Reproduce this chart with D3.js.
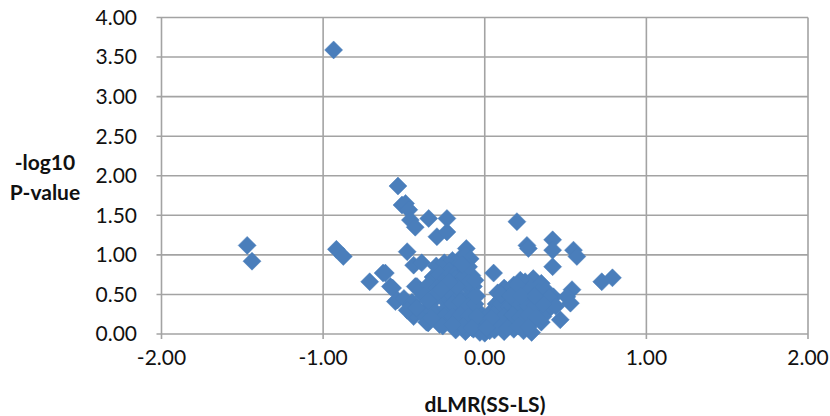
<!DOCTYPE html>
<html><head><meta charset="utf-8">
<script src="https://cdn.jsdelivr.net/npm/d3@7"></script>
<style>body{margin:0;background:#fff}svg{display:block}</style>
</head><body><svg id="c" width="830" height="416"></svg>
<script>
const xTicks = [-2, -1, 0, 1, 2];
const yTicks = [0, 0.5, 1, 1.5, 2, 2.5, 3, 3.5, 4];
const xTitle = "dLMR(SS-LS)";
const yTitle = ["-log10", "P-value"];
// dLMR (x) values
const dLMR = [
 -1.47,-1.44,-0.935,-0.918,-0.875,-0.712,-0.629,-0.537,-0.512,-0.49,-0.47,-0.46,-0.43,-0.347,-0.234,-0.296,-0.234,-0.114,-0.48,-0.44,-0.39,
 -0.615,-0.584,-0.553,-0.44,-0.43,-0.57,-0.54,-0.42,-0.44,-0.35,
 0.199,0.261,0.27,0.42,0.42,0.549,0.57,0.42,0.055,0.724,0.79,0.54,0.508,0.53,0.467,0.425,
 -0.30,-0.25,-0.20,-0.15,-0.12,-0.18,-0.09,-0.22,
 -0.32,-0.28,-0.22,-0.17,-0.12,-0.08,-0.26,
 -0.40,-0.35,-0.30,-0.25,-0.20,-0.15,-0.10,-0.07,
 -0.50,-0.45,-0.38,-0.32,-0.27,-0.22,-0.17,-0.12,-0.07,
 -0.48,-0.40,-0.35,-0.30,-0.24,-0.19,-0.14,-0.09,-0.05,
 -0.36,-0.28,-0.22,-0.16,-0.11,-0.06,-0.02,
 -0.18,-0.12,-0.07,-0.03,0.00,0.03,
 0.30,0.25,0.18,0.35,0.12,0.22,
 0.08,0.13,0.18,0.23,0.28,0.33,0.38,
 0.07,0.10,0.14,0.19,0.24,0.29,0.34,0.40,
 0.03,0.08,0.13,0.18,0.23,0.28,0.33,0.38,
 0.05,0.10,0.15,0.20,0.25,0.30,0.35,
 0.06,0.12,0.18,0.24,0.29,0.02,0.44,0.36,
 -0.23,-0.18,-0.13,-0.10,-0.14,-0.20,-0.15,-0.10,-0.06,-0.25,-0.20,-0.15,-0.10,-0.05,-0.13,-0.08,
 -0.30,-0.35,-0.42,-0.33,-0.26,-0.20,-0.05,-0.10,-0.06,-0.17,-0.22,-0.27,
 0.10,0.15,0.20,0.26,0.31,0.36,0.12,0.17,0.22,0.27,0.32,0.08,0.14,0.21,0.27,
 0.15,0.20,0.26,0.31,0.04,0.01,0.10,0.16,0.22
];
// -log10 P-value (y) values, same order
const negLogP = [
 1.12,0.92,3.59,1.07,0.98,0.66,0.77,1.87,1.63,1.65,1.57,1.44,1.35,1.46,1.46,1.23,1.29,1.08,1.04,0.87,0.90,
 0.77,0.60,0.41,0.22,0.60,0.58,0.43,0.60,0.26,0.14,
 1.42,1.12,1.08,1.19,1.06,1.06,0.98,0.85,0.77,0.66,0.71,0.56,0.47,0.39,0.18,0.47,
 0.86,0.90,0.93,0.96,1.00,0.84,0.95,0.80,
 0.72,0.76,0.74,0.78,0.80,0.74,0.66,
 0.55,0.62,0.58,0.63,0.60,0.65,0.58,0.60,
 0.45,0.40,0.48,0.42,0.47,0.44,0.50,0.42,0.46,
 0.30,0.28,0.33,0.27,0.32,0.30,0.34,0.28,0.31,
 0.15,0.12,0.18,0.14,0.17,0.12,0.16,
 0.05,0.03,0.06,0.02,0.01,0.04,
 0.70,0.66,0.62,0.64,0.58,0.68,
 0.52,0.56,0.50,0.55,0.57,0.52,0.55,
 0.38,0.44,0.42,0.46,0.40,0.44,0.41,0.46,
 0.26,0.30,0.25,0.31,0.27,0.32,0.26,0.28,
 0.15,0.18,0.12,0.17,0.13,0.18,0.15,
 0.05,0.03,0.06,0.04,0.02,0.15,0.35,0.22,
 0.55,0.70,0.72,0.85,0.88,0.38,0.40,0.35,0.38,0.22,0.22,0.24,0.22,0.22,0.10,0.08,
 0.50,0.42,0.33,0.20,0.10,0.12,0.48,0.65,0.68,0.60,0.66,0.56,
 0.38,0.35,0.40,0.36,0.36,0.38,0.22,0.24,0.21,0.24,0.21,0.10,0.08,0.10,0.09,
 0.55,0.62,0.52,0.48,0.20,0.08,0.50,0.48,0.48
];

const svg = d3.select("#c");
const L = 161.5, R = 808, T = 17.5, B = 334;
const x = d3.scaleLinear().domain([-2, 2]).range([L, R]);
const y = d3.scaleLinear().domain([0, 4]).range([B, T]);
const grid = "#a3a3a3";
const font = "Lato, 'Open Sans', sans-serif";
const fmt = d => d.toFixed(2);

// horizontal gridlines
svg.append("g").selectAll("line").data(yTicks).join("line")
  .attr("x1", L - 5).attr("x2", R).attr("y1", d => y(d)).attr("y2", d => y(d))
  .attr("stroke", grid).attr("stroke-width", 1.6);
// vertical gridlines
svg.append("g").selectAll("line").data(xTicks).join("line")
  .attr("x1", d => x(d)).attr("x2", d => x(d)).attr("y1", T).attr("y2", B + 5)
  .attr("stroke", grid).attr("stroke-width", 1.6);

// y tick labels
svg.append("g").selectAll("text").data(yTicks).join("text")
  .attr("x", 137).attr("y", d => y(d)).attr("dy", "0.35em")
  .attr("text-anchor", "end").attr("font-family", font).attr("font-size", 21)
  .attr("fill", "#111").text(fmt);
// x tick labels
svg.append("g").selectAll("text").data(xTicks).join("text")
  .attr("x", d => x(d)).attr("y", 358).attr("dy", "0.35em")
  .attr("text-anchor", "middle").attr("font-family", font).attr("font-size", 21)
  .attr("fill", "#111").text(fmt);

// axis titles
svg.append("text").attr("x", 485).attr("y", 405).attr("dy", "0.35em")
  .attr("text-anchor", "middle").attr("font-family", font).attr("font-size", 21)
  .attr("font-weight", "bold").attr("fill", "#111").text(xTitle);
svg.append("g").selectAll("text").data(yTitle).join("text")
  .attr("x", 45).attr("y", (d, i) => 163 + i * 30).attr("dy", "0.35em")
  .attr("text-anchor", "middle").attr("font-family", font).attr("font-size", 21)
  .attr("font-weight", "bold").attr("fill", "#111").text(d => d);

// points
const pts = dLMR.map((d, i) => [d, negLogP[i]]);
const s = 9;
svg.append("g").selectAll("path").data(pts).join("path")
  .attr("d", d => {
    const cx = x(d[0]), cy = y(d[1]);
    return `M${cx},${cy - s}L${cx + s},${cy}L${cx},${cy + s}L${cx - s},${cy}Z`;
  })
  .attr("fill", "#4a7ebb").attr("stroke", "#4a7ebb").attr("stroke-width", 0.5);
</script></body></html>
